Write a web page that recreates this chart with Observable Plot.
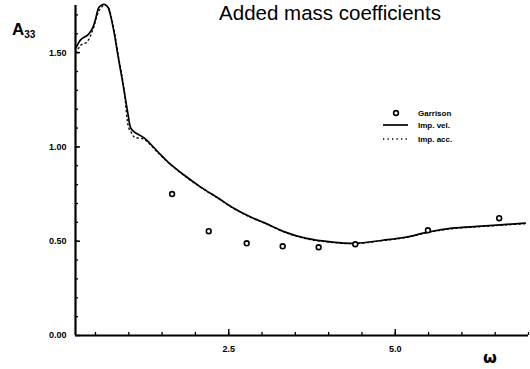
<!DOCTYPE html>
<html>
<head>
<meta charset="utf-8">
<script src="https://cdn.jsdelivr.net/npm/d3@7"></script>
<script src="https://cdn.jsdelivr.net/npm/@observablehq/plot@0.6"></script>
<style>
  html, body { margin: 0; padding: 0; background: #fff; }
  #wrap { position: relative; width: 530px; height: 369px; overflow: hidden; background: #fff; }
  #wrap svg { display: block; }
</style>
</head>
<body>
<div id="wrap"></div>
<script>
// Solid curve ("Imp. vel.")
const velOmega = [0.21,0.28,0.39,0.46,0.51,0.55,0.61,0.64,0.69,0.73,0.78,0.84,0.91,0.99,1.03,1.08,1.23,1.44,1.59,1.83,2.08,2.34,2.57,2.83,3.05,3.35,3.65,4.06,4.40,4.81,5.15,5.49,5.85,6.30,6.95];
const velA     = [1.527,1.569,1.596,1.633,1.691,1.739,1.755,1.755,1.739,1.691,1.606,1.479,1.340,1.170,1.100,1.080,1.048,0.973,0.920,0.851,0.787,0.729,0.676,0.628,0.596,0.548,0.516,0.495,0.489,0.505,0.521,0.548,0.569,0.580,0.596];
// Dotted curve ("Imp. acc.")
const accOmega = [0.21,0.28,0.37,0.46,0.55,0.62,0.66,0.70,0.74,0.79,0.85,0.92,1.00,1.04,1.08,1.23,1.44,1.59,1.83,2.08,2.34,2.57,2.83,3.05,3.35,3.65,4.06,4.40,4.81,5.15,5.49,5.85,6.30,6.95];
const accA     = [1.500,1.540,1.556,1.620,1.720,1.750,1.750,1.735,1.685,1.600,1.470,1.330,1.100,1.075,1.053,1.040,0.968,0.918,0.848,0.785,0.727,0.674,0.626,0.594,0.546,0.514,0.493,0.487,0.503,0.519,0.546,0.566,0.578,0.593];
// Circles ("Garrison")
const garOmega = [1.65,2.20,2.77,3.31,3.85,4.40,5.49,6.56];
const garA     = [0.750,0.553,0.489,0.473,0.468,0.484,0.558,0.622];

const xDomain = [0.2, 7.0];
const yDomain = [0, 1.75];
const yMajor = [0, 0.5, 1.0, 1.5];
const yMinor = d3.range(0.1, 1.751, 0.1).map(v => +v.toFixed(2));
const xMajor = [2.5, 5.0];
const xMinor = d3.range(0.5, 7.01, 0.5).map(v => +v.toFixed(2));
const yTickLabels = ["0.00", "0.50", "1.00", "1.50"];
const xTickLabels = ["2.5", "5.0"];

const vel = velOmega.map((w, i) => ({w, a: velA[i]}));
const acc = accOmega.map((w, i) => ({w, a: accA[i]}));
const gar = garOmega.map((w, i) => ({w, a: garA[i]}));

const font = '"Liberation Sans", Arial, sans-serif';

const chart = Plot.plot({
  width: 530,
  height: 369,
  marginLeft: 75,
  marginRight: 2,
  marginTop: 5,
  marginBottom: 34,
  style: {fontFamily: font, background: "#fff", color: "#000"},
  x: {domain: xDomain, label: null},
  y: {domain: yDomain, label: null},
  marks: [
    // minor ticks (inward)
    Plot.axisY({ticks: yMinor, tickSize: 3, dx: 3, tickFormat: () => "", stroke: "#000", strokeWidth: 1.3, label: null}),
    Plot.axisX({ticks: xMinor, tickSize: 3, dy: -3, tickFormat: () => "", stroke: "#000", strokeWidth: 1.3, label: null}),
    // major ticks + labels
    Plot.axisY({ticks: yMajor, tickSize: 5, dx: 5, tickPadding: 9,
      tickFormat: (d) => yTickLabels[yMajor.indexOf(d)],
      fontSize: 9, fontWeight: "bold", stroke: "#000", strokeWidth: 1.5, label: null}),
    Plot.axisX({ticks: xMajor, tickSize: 6, dy: -6, tickPadding: 10,
      tickFormat: (d) => xTickLabels[xMajor.indexOf(d)],
      fontSize: 9, fontWeight: "bold", stroke: "#000", strokeWidth: 1.5, label: null}),
    // axis lines
    Plot.ruleX([xDomain[0]], {stroke: "#000", strokeWidth: 2.2}),
    Plot.ruleY([0], {stroke: "#000", strokeWidth: 2.2}),
    // curves
    Plot.line(acc, {x: "w", y: "a", curve: "catmull-rom", stroke: "#000", strokeWidth: 1.3, strokeDasharray: "1.3,3.2"}),
    Plot.line(vel, {x: "w", y: "a", curve: "catmull-rom", stroke: "#000", strokeWidth: 1.7}),
    Plot.dot(gar, {x: "w", y: "a", r: 2.4, stroke: "#000", strokeWidth: 1.6, fill: "#fff"})
  ]
});

const wrap = document.getElementById("wrap");
wrap.appendChild(chart);

const ns = "http://www.w3.org/2000/svg";
const ov = document.createElementNS(ns, "svg");
ov.setAttribute("width", 530);
ov.setAttribute("height", 369);
ov.style.position = "absolute";
ov.style.left = "0";
ov.style.top = "0";
ov.style.pointerEvents = "none";
ov.innerHTML = `
  <text x="330" y="19.5" text-anchor="middle" font-family='${font}' font-size="20.5" fill="#000">Added mass coefficients</text>
  <text x="12" y="35" font-family='${font}' font-size="17" font-weight="bold" fill="#000">A<tspan font-size="10" dy="3">33</tspan></text>
  <text x="490" y="363" text-anchor="middle" font-family='"DejaVu Sans", sans-serif' font-size="16" font-weight="bold" fill="#000">ω</text>
  <circle cx="396" cy="113" r="2.4" fill="#fff" stroke="#000" stroke-width="1.6"/>
  <text x="418" y="116" font-family='${font}' font-size="8" font-weight="bold" fill="#000">Garrison</text>
  <line x1="383" y1="125" x2="408" y2="125" stroke="#000" stroke-width="1.7"/>
  <text x="418" y="128" font-family='${font}' font-size="8" font-weight="bold" fill="#000">Imp. vel.</text>
  <line x1="383" y1="139" x2="408" y2="139" stroke="#000" stroke-width="1.3" stroke-dasharray="1.3,3.2"/>
  <text x="418" y="142" font-family='${font}' font-size="8" font-weight="bold" fill="#000">Imp. acc.</text>
`;
wrap.appendChild(ov);
</script>
</body>
</html>
